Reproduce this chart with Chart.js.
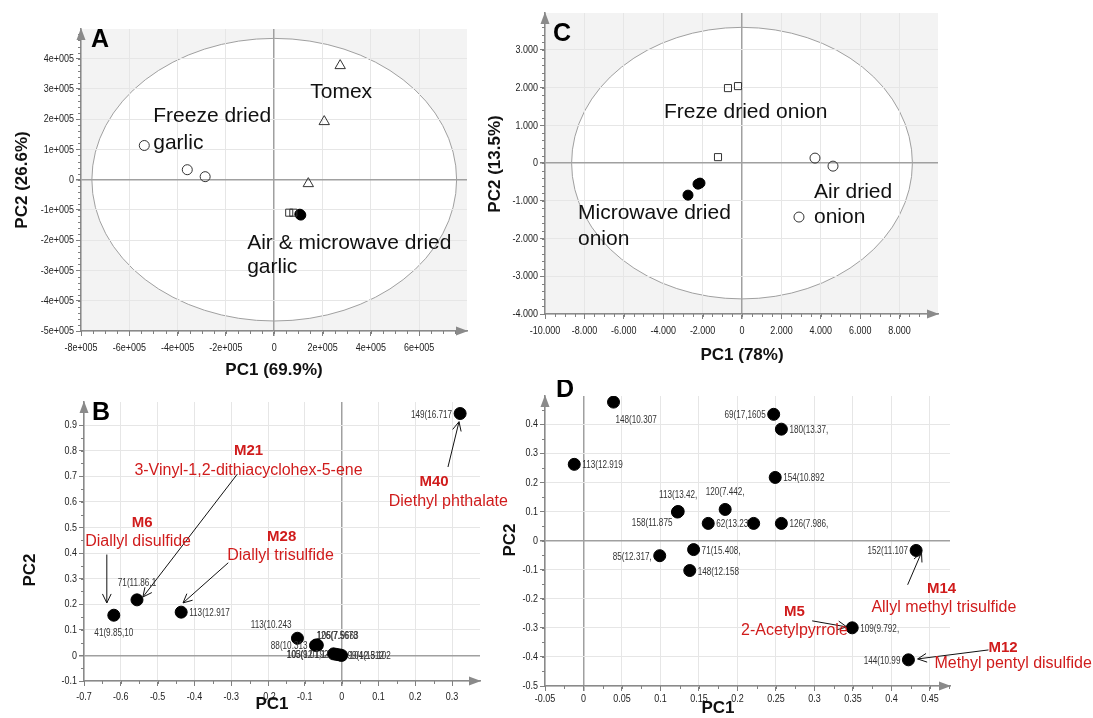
<!DOCTYPE html>
<html>
<head>
<meta charset="utf-8">
<script src="https://cdn.jsdelivr.net/npm/chart.js@4.4.1/dist/chart.umd.min.js"></script>
<style>
  body { margin: 0; background: #fff; width: 1093px; height: 718px; position: relative; overflow: hidden; }
  canvas { position: absolute; }
</style>
</head>
<body>
<canvas id="chartA" width="480" height="390" style="left:0;top:0"></canvas>
<canvas id="chartC" width="480" height="380" style="left:480px;top:0"></canvas>
<canvas id="chartB" width="530" height="328" style="left:0;top:390px"></canvas>
<canvas id="chartD" width="603" height="338" style="left:490px;top:380px"></canvas>
<script>
// ---- A: garlic PCA scores ----
const garlicFreezeX = [-5.38e5, -3.60e5, -2.86e5];
const garlicFreezeY = [1.13e5, 0.33e5, 0.10e5];
const garlicTomexX = [2.73e5, 2.07e5, 1.41e5];
const garlicTomexY = [3.77e5, 1.92e5, -0.13e5];
const garlicAirX = [0.62e5, 0.79e5];
const garlicAirY = [-1.09e5, -1.09e5];
const garlicMicroX = [1.06e5, 1.10e5];
const garlicMicroY = [-1.14e5, -1.17e5];
const garlicEllipse = [7.55e5, 4.67e5];
const garlicTitles = ['PC1 (69.9%)', 'PC2 (26.6%)'];
const garlicNotes = [
  { x: -5.01e5, y: 2.09e5, text: 'Freeze dried' },
  { x: -5.01e5, y: 1.20e5, text: 'garlic' },
  { x: 1.49e5, y: 2.88e5, text: 'Tomex' },
  { x: -1.12e5, y: -2.09e5, text: 'Air & microwave dried' },
  { x: -1.12e5, y: -2.88e5, text: 'garlic' }
];

// ---- C: onion PCA scores ----
const onionFreezeX = [-711, -203, -1218];
const onionFreezeY = [1989, 2042, 159];
const onionAirX = [3706, 4620, 2893];
const onionAirY = [133, -80, -1430];
const onionMicroX = [-2741, -2233, -2132];
const onionMicroY = [-849, -557, -530];
const onionEllipse = [8650, 3600];
const onionTitles = ['PC1 (78%)', 'PC2 (13.5%)'];
const onionNotes = [
  { x: -3959, y: 1353, text: 'Freze dried onion' },
  { x: 3655, y: -769, text: 'Air dried' },
  { x: 3655, y: -1432, text: 'onion' },
  { x: -8325, y: -1326, text: 'Microwave dried' },
  { x: -8325, y: -2016, text: 'onion' }
];

// ---- B: garlic loadings ----
const bLoadX = [0.322, -0.619, -0.556, -0.436, -0.120, -0.071, -0.068, -0.066, -0.022, -0.014, -0.006, 0.000];
const bLoadY = [0.945, 0.157, 0.217, 0.169, 0.067, 0.039, 0.041, 0.040, 0.006, 0.004, 0.002, 0.000];
const bLabels = ['149(16.717', '41(9.85,10', '71(11.86,1', '113(12.917', '113(10.243', '88(10.313',
  '126(7.5678', '105(7.9663', '105(9.01,1', '103(12.192', '99(12.512', '104(13.102'];
const bLabelPos = ['left', 'below', 'above', 'right', 'aboveLeft', 'left', 'aboveRight', 'aboveRight', 'left', 'left', 'right', 'right'];
const bTitles = ['PC1', 'PC2'];
const bNotes = [
  { x: -0.253, y: 0.80, text: 'M21', bold: true },
  { x: -0.253, y: 0.722, text: '3-Vinyl-1,2-dithiacyclohex-5-ene' },
  { x: -0.542, y: 0.516, text: 'M6', bold: true },
  { x: -0.553, y: 0.445, text: 'Diallyl disulfide' },
  { x: -0.163, y: 0.465, text: 'M28', bold: true },
  { x: -0.166, y: 0.39, text: 'Diallyl trisulfide' },
  { x: 0.251, y: 0.677, text: 'M40', bold: true },
  { x: 0.290, y: 0.602, text: 'Diethyl phthalate' }
];
const bArrows = [
  [-0.638, 0.394, -0.638, 0.205],
  [-0.283, 0.709, -0.540, 0.228],
  [-0.308, 0.362, -0.431, 0.205],
  [0.289, 0.736, 0.319, 0.913]
];

// ---- D: onion loadings ----
const dLoadX = [0.039, 0.247, 0.257, -0.012, 0.249, 0.123, 0.122, 0.184, 0.162, 0.221, 0.257, 0.099, 0.143, 0.138, 0.432, 0.349, 0.422];
const dLoadY = [0.476, 0.434, 0.383, 0.262, 0.217, 0.100, 0.098, 0.107, 0.059, 0.059, 0.059, -0.052, -0.031, -0.103, -0.034, -0.300, -0.410];
const dLabels = ['148(10.307', '69(17,1605', '180(13.37,', '113(12.919', '154(10.892', '113(13.42,', '158(11.875', '120(7.442,',
  '62(13.23,', '', '126(7.986,', '85(12.317,', '71(15.408,', '148(12.158', '152(11.107', '109(9.792,', '144(10.99'];
const dLabelPos = ['belowRight', 'left', 'right', 'right', 'right', 'above', 'belowLeft', 'above', 'right', 'right', 'right',
  'left', 'right', 'right', 'left', 'right', 'left'];
const dTitles = ['PC1', 'PC2'];
const dNotes = [
  { x: 0.465, y: -0.166, text: 'M14', bold: true },
  { x: 0.468, y: -0.231, text: 'Allyl methyl trisulfide' },
  { x: 0.274, y: -0.245, text: 'M5', bold: true },
  { x: 0.274, y: -0.31, text: '2-Acetylpyrrole' },
  { x: 0.545, y: -0.369, text: 'M12', bold: true },
  { x: 0.558, y: -0.424, text: 'Methyl pentyl disulfide' }
];
const dArrows = [
  [0.421, -0.152, 0.439, -0.041],
  [0.297, -0.276, 0.342, -0.297],
  [0.526, -0.376, 0.434, -0.407]
];

const ARIAL = "'Liberation Sans',Arial,sans-serif";
const RED = '#d01c1c';

const LABEL_OFFSETS = {
  left: [-8, 1, 'right'], right: [8, 1, 'left'], above: [0, -17, 'center'], below: [0, 18, 'center'],
  aboveLeft: [-6, -13, 'right'], aboveRight: [0, -9, 'left'], belowRight: [2, 18, 'left'], belowLeft: [-5, 11, 'right']
};

function pts(xs, ys) { return xs.map((x, i) => ({ x: x, y: ys[i] })); }

function fmtE(v) { return v === 0 ? '0' : (v / 1e5) + 'e+005'; }
function fmtDot(v) {
  const s = String(Math.abs(v)).replace(/\B(?=(\d{3})+(?!\d))/g, '.');
  return (v < 0 ? '-' : '') + s;
}
function fmtDec(v) { return String(parseFloat(v.toFixed(2))); }

function axis(min, max, step, fmt, size, isX) {
  return {
    type: 'linear', min: min, max: max,
    ticks: { display: false, stepSize: step, callback: v => fmt(v) },
    grid: {
      color: c => (c.tick && Math.abs(c.tick.value) < step / 1000) ? '#a0a0a0' : '#e6e6e6',
      lineWidth: c => (c.tick && Math.abs(c.tick.value) < step / 1000) ? 1.5 : 1,
      tickColor: '#808080', tickLength: 5
    },
    border: { display: true, color: '#8a8a8a', width: 1.5 },
    title: { display: false },
    afterBuildTicks: s => {
      const out = [];
      for (let k = Math.ceil(s.min / step - 1e-9); k * step <= s.max + 1e-9; k++) {
        out.push({ value: +(k * step).toFixed(10) });
      }
      s.ticks = out;
    },
    afterFit: s => { if (isX) s.height = size; else s.width = size; }
  };
}

function squeezed(ctx, text, x, y, align, sx) {
  ctx.save();
  ctx.translate(x, y);
  ctx.scale(sx, 1);
  ctx.textAlign = align;
  ctx.fillText(text, 0, 0);
  ctx.restore();
}

function arrowHead(ctx, x1, y1, x2, y2, len) {
  const ang = Math.atan2(y2 - y1, x2 - x1);
  ctx.beginPath();
  ctx.moveTo(x2 - len * Math.cos(ang - 0.45), y2 - len * Math.sin(ang - 0.45));
  ctx.lineTo(x2, y2);
  ctx.lineTo(x2 - len * Math.cos(ang + 0.45), y2 - len * Math.sin(ang + 0.45));
  ctx.stroke();
}

const decoPlugin = {
  id: 'deco',
  beforeDraw(chart, args, o) {
    const { ctx, chartArea: a } = chart;
    const x = chart.scales.x, y = chart.scales.y;
    ctx.save();
    if (o.shade) {
      ctx.fillStyle = o.shade;
      ctx.fillRect(a.left, a.top, a.right - a.left, a.bottom - a.top);
    }
    if (o.ellipse) {
      const cx = x.getPixelForValue(0), cy = y.getPixelForValue(0);
      const rx = x.getPixelForValue(o.ellipse[0]) - cx;
      const ry = cy - y.getPixelForValue(o.ellipse[1]);
      ctx.beginPath();
      ctx.ellipse(cx, cy, rx, ry, 0, 0, Math.PI * 2);
      ctx.fillStyle = '#fff';
      ctx.fill();
      ctx.strokeStyle = '#a0a0a0';
      ctx.lineWidth = 1;
      ctx.stroke();
    }
    ctx.restore();
  },
  afterDraw(chart, args, o) {
    const { ctx, chartArea: a } = chart;
    const x = chart.scales.x, y = chart.scales.y;
    ctx.save();
    // minor ticks
    ctx.strokeStyle = '#808080';
    ctx.lineWidth = 1;
    for (let v = x.min; v <= x.max + 1e-9; v += o.minor[0]) {
      const px = Math.round(x.getPixelForValue(v)) + 0.5;
      ctx.beginPath(); ctx.moveTo(px, a.bottom); ctx.lineTo(px, a.bottom + 3); ctx.stroke();
    }
    for (let v = y.min; v <= y.max + 1e-9; v += o.minor[1]) {
      const py = Math.round(y.getPixelForValue(v)) + 0.5;
      ctx.beginPath(); ctx.moveTo(a.left - 3, py); ctx.lineTo(a.left, py); ctx.stroke();
    }
    // axis arrowheads
    ctx.fillStyle = '#8a8a8a';
    ctx.beginPath();
    ctx.moveTo(a.right + 1, a.bottom); ctx.lineTo(a.right - 11, a.bottom - 4.5); ctx.lineTo(a.right - 11, a.bottom + 4.5);
    ctx.closePath(); ctx.fill();
    ctx.beginPath();
    ctx.moveTo(a.left, a.top - 1); ctx.lineTo(a.left - 4.5, a.top + 11); ctx.lineTo(a.left + 4.5, a.top + 11);
    ctx.closePath(); ctx.fill();
    // tick labels from the scales' own ticks
    ctx.fillStyle = '#222';
    ctx.font = '11.5px ' + ARIAL;
    ctx.textBaseline = 'middle';
    x.ticks.forEach(t => squeezed(ctx, o.fmt(t.value), x.getPixelForValue(t.value), a.bottom + o.tickGap[0], 'center', 0.78));
    y.ticks.forEach(t => squeezed(ctx, o.fmt(t.value), a.left - o.tickGap[1], y.getPixelForValue(t.value), 'right', 0.78));
    // axis titles
    ctx.fillStyle = '#111';
    ctx.font = 'bold 17px ' + ARIAL;
    ctx.textAlign = 'center';
    ctx.fillText(o.titles[0], o.titlePos[0], o.titlePos[1]);
    ctx.save();
    ctx.translate(o.titlePos[2], o.titlePos[3]);
    ctx.rotate(-Math.PI / 2);
    ctx.fillText(o.titles[1], 0, 0);
    ctx.restore();
    // point labels
    ctx.fillStyle = '#333';
    ctx.font = '11px ' + ARIAL;
    chart.data.datasets.forEach((ds, di) => {
      if (!ds.pointLabels) return;
      const meta = chart.getDatasetMeta(di);
      meta.data.forEach((el, i) => {
        const off = LABEL_OFFSETS[ds.labelPos[i]];
        squeezed(ctx, ds.pointLabels[i], el.x + off[0], el.y + off[1], off[2], 0.74);
      });
    });
    // arrows
    ctx.strokeStyle = '#111';
    ctx.lineWidth = 1;
    (o.arrows || []).forEach(r => {
      const x1 = x.getPixelForValue(r[0]), y1 = y.getPixelForValue(r[1]);
      const x2 = x.getPixelForValue(r[2]), y2 = y.getPixelForValue(r[3]);
      ctx.beginPath(); ctx.moveTo(x1, y1); ctx.lineTo(x2, y2); ctx.stroke();
      arrowHead(ctx, x1, y1, x2, y2, 10);
    });
    // text notes
    (o.notes || []).forEach(n => {
      ctx.fillStyle = o.noteColor;
      ctx.textAlign = o.noteAlign;
      ctx.font = n.bold ? 'bold ' + (o.noteSize - 1) + 'px ' + ARIAL : o.noteSize + 'px ' + ARIAL;
      ctx.fillText(n.text, x.getPixelForValue(n.x), y.getPixelForValue(n.y));
    });
    // panel letter
    ctx.fillStyle = '#000';
    ctx.textAlign = 'left';
    ctx.textBaseline = 'top';
    ctx.font = 'bold 25px ' + ARIAL;
    ctx.fillText(o.letter[0], o.letter[1], o.letter[2]);
    ctx.restore();
  }
};

function scoreSet(xs, ys, style, filled, radius) {
  return {
    data: pts(xs, ys), pointStyle: style, pointRadius: radius, pointHoverRadius: radius,
    backgroundColor: filled ? '#000' : 'rgba(255,255,255,0)', borderColor: filled ? '#000' : '#333',
    borderWidth: 1, showLine: false
  };
}

function makeChart(id, datasets, scales, padding, deco) {
  return new Chart(document.getElementById(id), {
    type: 'scatter',
    data: { datasets: datasets },
    options: {
      responsive: false, animation: false, events: [],
      layout: { padding: padding },
      plugins: { legend: { display: false }, tooltip: { enabled: false }, deco: deco },
      scales: scales
    },
    plugins: [decoPlugin]
  });
}

makeChart('chartA', [
  scoreSet(garlicFreezeX, garlicFreezeY, 'circle', false, 5),
  scoreSet(garlicTomexX, garlicTomexY, 'triangle', false, 6),
  scoreSet(garlicAirX, garlicAirY, 'rect', false, 5),
  scoreSet(garlicMicroX, garlicMicroY, 'circle', true, 5)
], {
  x: axis(-8e5, 7.98e5, 2e5, fmtE, 59, true),
  y: axis(-5e5, 4.98e5, 1e5, fmtE, 81, false)
}, { left: 0, top: 29, right: 13, bottom: 0 }, {
  shade: '#f3f3f3', ellipse: garlicEllipse, minor: [5e4, 2e4], notes: garlicNotes, fmt: fmtE, tickGap: [17, 7],
  titles: garlicTitles, titlePos: [274, 370, 22, 180],
  noteColor: '#111', noteAlign: 'left', noteSize: 21, letter: ['A', 91, 28]
});

makeChart('chartC', [
  scoreSet(onionFreezeX, onionFreezeY, 'rect', false, 5),
  scoreSet(onionAirX, onionAirY, 'circle', false, 5),
  scoreSet(onionMicroX, onionMicroY, 'circle', true, 5)
], {
  x: axis(-10000, 9950, 2000, fmtDot, 66, true),
  y: axis(-4000, 3980, 1000, fmtDot, 65, false)
}, { left: 0, top: 13, right: 22, bottom: 0 }, {
  shade: '#f3f3f3', ellipse: onionEllipse, minor: [500, 200], notes: onionNotes, fmt: fmtDot, tickGap: [17, 7],
  titles: onionTitles, titlePos: [262, 355, 15, 164],
  noteColor: '#111', noteAlign: 'left', noteSize: 21, letter: ['C', 73, 22]
});

makeChart('chartB', [
  Object.assign(scoreSet(bLoadX, bLoadY, 'circle', true, 6), { pointLabels: bLabels, labelPos: bLabelPos })
], {
  x: axis(-0.7, 0.376, 0.1, fmtDec, 37, true),
  y: axis(-0.1, 0.99, 0.1, fmtDec, 84, false)
}, { left: 0, top: 12, right: 50, bottom: 0 }, {
  shade: null, ellipse: null, minor: [0.05, 0.05], notes: bNotes, arrows: bArrows, fmt: fmtDec, tickGap: [16, 7],
  titles: bTitles, titlePos: [272, 314, 30, 180],
  noteColor: RED, noteAlign: 'center', noteSize: 16, letter: ['B', 92, 11]
});

makeChart('chartD', [
  Object.assign(scoreSet(dLoadX, dLoadY, 'circle', true, 6), { pointLabels: dLabels, labelPos: dLabelPos })
], {
  x: axis(-0.05, 0.476, 0.05, fmtDec, 32, true),
  y: axis(-0.5, 0.497, 0.1, fmtDec, 55, false)
}, { left: 0, top: 16, right: 143, bottom: 0 }, {
  shade: null, ellipse: null, minor: [0.025, 0.05], notes: dNotes, arrows: dArrows, fmt: fmtDec, tickGap: [13, 7],
  titles: dTitles, titlePos: [228, 328, 20, 160],
  noteColor: RED, noteAlign: 'center', noteSize: 16, letter: ['D', 66, -2]
});
</script>
</body>
</html>
